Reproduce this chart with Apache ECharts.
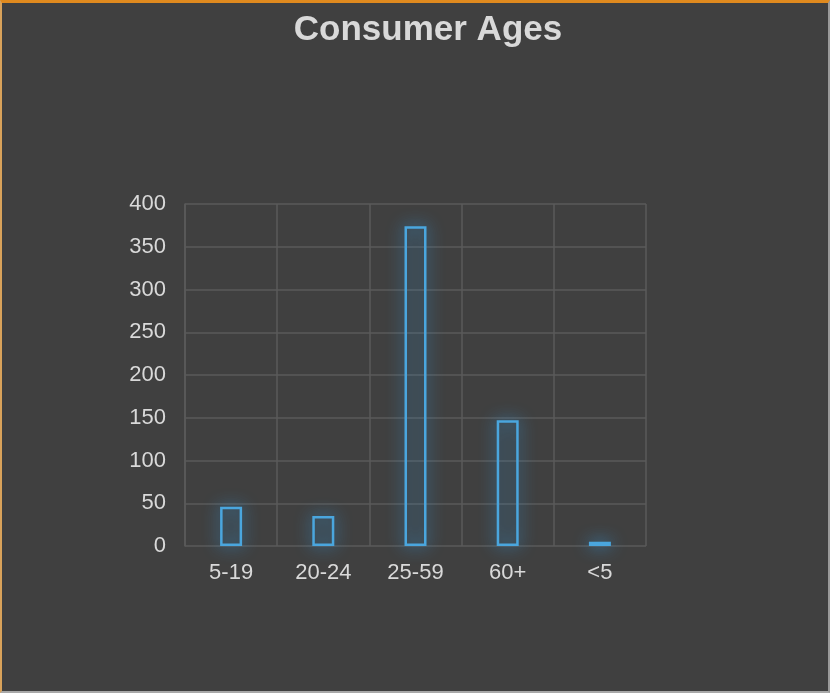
<!DOCTYPE html>
<html>
<head>
<meta charset="utf-8">
<script src="https://cdn.jsdelivr.net/npm/echarts@6/dist/echarts.min.js"></script>
<style>
html,body{margin:0;padding:0;background:#404040;}
#wrap{position:absolute;left:0;top:0;width:830px;height:693px;box-sizing:border-box;border-top:3px solid #e08a1e;border-left:2px solid #d9a25a;border-right:2px solid #9a9a9a;border-bottom:2px solid #a8a8a8;background:#404040;}
#chart{width:826px;height:688px;}
</style>
</head>
<body>
<div id="wrap"><div id="chart"></div></div>
<script>
const categories = ['5-19', '20-24', '25-59', '60+', '<5'];
const values = [46, 35, 374, 147, 5];
const yTicks = [0, 50, 100, 150, 200, 250, 300, 350, 400];

const chart = echarts.init(document.getElementById('chart'));
chart.setOption({
  backgroundColor: '#404040',
  animation: false,
  title: {
    text: 'Consumer Ages',
    left: 421, top: 5, textAlign: 'center',
    textStyle: { color: '#d9d9d9', fontSize: 35, fontWeight: 'bold', fontFamily: 'Liberation Sans' }
  },
  grid: { left: 183, right: 182, top: 201, bottom: 145, containLabel: false },
  xAxis: {
    type: 'category',
    data: categories,
    axisLine: { show: false },
    axisTick: { show: false },
    splitLine: { show: true, lineStyle: { color: '#5a5a5a', width: 1.5 } },
    axisLabel: { color: '#d9d9d9', fontSize: 22, fontFamily: 'Liberation Sans', margin: 16 }
  },
  yAxis: {
    type: 'value',
    min: yTicks[0], max: yTicks[yTicks.length - 1], interval: 50,
    axisLine: { show: true, lineStyle: { color: '#5a5a5a', width: 1.5 } },
    axisTick: { show: false },
    splitLine: { show: true, lineStyle: { color: '#5a5a5a', width: 1.5 } },
    axisLabel: { color: '#d9d9d9', fontSize: 22, fontFamily: 'Liberation Sans', margin: 19 }
  },
  series: [{
    type: 'bar',
    data: values,
    barWidth: 22,
    itemStyle: {
      color: 'rgba(0,0,0,0)',
      borderColor: '#4aa6de',
      borderWidth: 2.5,
      shadowBlur: 16,
      shadowColor: 'rgba(50,160,235,1)'
    }
  }]
});
</script>
</body>
</html>
